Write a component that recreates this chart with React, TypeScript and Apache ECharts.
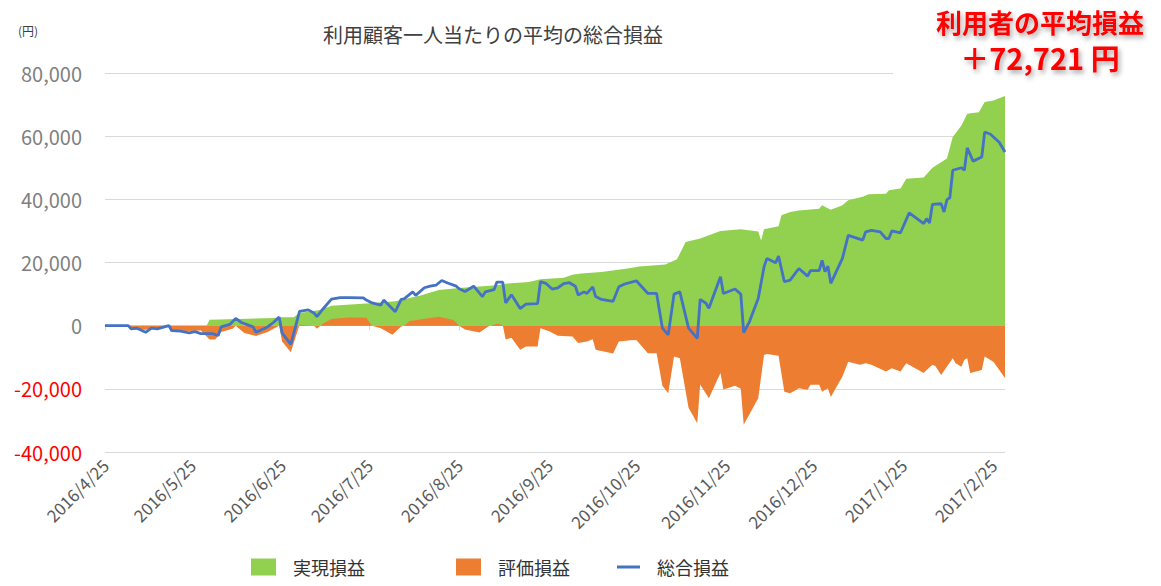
import React, { useEffect, useRef } from "react";
import * as echarts from "echarts";

// ---- data ----
const yTicks = { min: -40000, max: 80000, interval: 20000 };
const seriesNames = ["実現損益", "評価損益", "総合損益"];
const chartTitle = "利用顧客一人当たりの平均の総合損益";
const unitLabel = "(円)";
const noteLine1 = "利用者の平均損益";
const noteLine2 = "＋72,721 円";

const realized: [string, number][] = [
  ["2016/4/25", 0], ["2016/5/30", 0], ["2016/5/31", 1900], ["2016/6/22", 2400], ["2016/6/24", 2700],
  ["2016/6/29", 2700], ["2016/7/1", 4000], ["2016/7/8", 5000], ["2016/7/12", 6300], ["2016/7/24", 7000],
  ["2016/8/3", 7700], ["2016/8/12", 9600], ["2016/8/18", 11300], ["2016/8/26", 12000], ["2016/9/7", 12800],
  ["2016/9/10", 13300], ["2016/9/18", 13800], ["2016/9/22", 14700], ["2016/9/30", 15200], ["2016/10/3", 16100],
  ["2016/10/6", 16500], ["2016/10/13", 17000], ["2016/10/22", 18100], ["2016/10/26", 18700], ["2016/11/4", 19400],
  ["2016/11/8", 21000], ["2016/11/11", 26500], ["2016/11/16", 27600], ["2016/11/23", 30000], ["2016/11/30", 30500],
  ["2016/12/6", 29800], ["2016/12/7", 27000], ["2016/12/8", 30500], ["2016/12/13", 31500], ["2016/12/14", 35000],
  ["2016/12/17", 36000], ["2016/12/20", 36500], ["2016/12/27", 37000], ["2016/12/28", 38100], ["2016/12/31", 36700],
  ["2017/1/4", 38100], ["2017/1/6", 39700], ["2017/1/11", 40800], ["2017/1/13", 41600], ["2017/1/19", 41800],
  ["2017/1/20", 42900], ["2017/1/24", 43400], ["2017/1/26", 46500], ["2017/2/1", 46900], ["2017/2/4", 50000],
  ["2017/2/9", 52900], ["2017/2/11", 59700], ["2017/2/14", 63400], ["2017/2/16", 67100], ["2017/2/20", 67600],
  ["2017/2/22", 70800], ["2017/2/25", 71300], ["2017/3/1", 72700],
];

const valuation: [string, number][] = [
  ["2016/4/25", 0], ["2016/5/3", 0], ["2016/5/4", -1200], ["2016/5/9", -1300], ["2016/5/13", -800],
  ["2016/5/17", -300], ["2016/5/18", -1500], ["2016/5/24", -1700], ["2016/5/28", -1500], ["2016/5/31", -4400],
  ["2016/6/2", -4400], ["2016/6/4", -2000], ["2016/6/8", -1000], ["2016/6/9", 0], ["2016/6/12", -2300],
  ["2016/6/16", -3300], ["2016/6/20", -2000], ["2016/6/22", -1000], ["2016/6/24", 0], ["2016/6/25", -5000],
  ["2016/6/28", -8400], ["2016/7/1", 300], ["2016/7/6", 0], ["2016/7/7", -1000], ["2016/7/9", 600],
  ["2016/7/12", 2100], ["2016/7/18", 2600], ["2016/7/24", 2500], ["2016/7/26", 0], ["2016/7/29", -800],
  ["2016/8/2", -2900], ["2016/8/5", -300], ["2016/8/6", 0], ["2016/8/8", 1500], ["2016/8/18", 2800],
  ["2016/8/23", 1800], ["2016/8/25", 0], ["2016/8/27", -1200], ["2016/9/1", -2200], ["2016/9/4", -300],
  ["2016/9/7", 600], ["2016/9/9", 200], ["2016/9/10", -4400], ["2016/9/12", -3800], ["2016/9/15", -7600],
  ["2016/9/17", -6600], ["2016/9/21", -6600], ["2016/9/22", -800], ["2016/9/25", -1800], ["2016/9/28", -3200],
  ["2016/10/3", -3400], ["2016/10/5", -5500], ["2016/10/8", -5000], ["2016/10/10", -4300], ["2016/10/11", -7600],
  ["2016/10/17", -8800], ["2016/10/19", -5000], ["2016/10/23", -4600], ["2016/10/25", -4500], ["2016/10/29", -8700],
  ["2016/11/1", -8700], ["2016/11/3", -19000], ["2016/11/5", -21400], ["2016/11/7", -9800], ["2016/11/9", -10300],
  ["2016/11/12", -26000], ["2016/11/15", -30900], ["2016/11/16", -18600], ["2016/11/19", -23000], ["2016/11/23", -15000],
  ["2016/11/24", -20200], ["2016/11/28", -19000], ["2016/11/30", -20000], ["2016/12/1", -31400], ["2016/12/6", -23000],
  ["2016/12/8", -9300], ["2016/12/9", -9000], ["2016/12/13", -9500], ["2016/12/15", -20900], ["2016/12/17", -21400],
  ["2016/12/20", -19800], ["2016/12/23", -20300], ["2016/12/24", -18700], ["2016/12/27", -18700], ["2016/12/28", -20900],
  ["2016/12/30", -19800], ["2016/12/31", -22600], ["2017/1/4", -16100], ["2017/1/6", -11400], ["2017/1/10", -12400],
  ["2017/1/12", -11900], ["2017/1/14", -12400], ["2017/1/19", -14500], ["2017/1/21", -13500], ["2017/1/24", -14500],
  ["2017/1/26", -11900], ["2017/2/1", -15000], ["2017/2/2", -14000], ["2017/2/4", -12400], ["2017/2/5", -12800],
  ["2017/2/7", -15600], ["2017/2/11", -10300], ["2017/2/12", -11900], ["2017/2/14", -13000], ["2017/2/15", -10800],
  ["2017/2/16", -10300], ["2017/2/17", -15000], ["2017/2/21", -14000], ["2017/2/22", -9800], ["2017/2/25", -11400],
  ["2017/3/1", -16600],
];

const total: [string, number][] = [
  ["2016/4/25", 0], ["2016/5/3", 0], ["2016/5/4", -1000], ["2016/5/6", -800], ["2016/5/9", -2100],
  ["2016/5/11", -800], ["2016/5/13", -1000], ["2016/5/17", 0], ["2016/5/18", -1600], ["2016/5/21", -1700],
  ["2016/5/24", -2300], ["2016/5/26", -1900], ["2016/5/28", -2500], ["2016/6/1", -2500], ["2016/6/3", -3100],
  ["2016/6/4", -400], ["2016/6/7", 400], ["2016/6/9", 2300], ["2016/6/11", 1000], ["2016/6/15", -400],
  ["2016/6/16", -2100], ["2016/6/20", -400], ["2016/6/22", 1000], ["2016/6/24", 2700], ["2016/6/25", -2300],
  ["2016/6/28", -5900], ["2016/7/1", 4500], ["2016/7/4", 5000], ["2016/7/6", 4000], ["2016/7/7", 2900],
  ["2016/7/9", 5200], ["2016/7/12", 8400], ["2016/7/15", 8900], ["2016/7/18", 8900], ["2016/7/23", 8800],
  ["2016/7/24", 8100], ["2016/7/26", 7200], ["2016/7/29", 6500], ["2016/7/30", 8100], ["2016/8/3", 4400],
  ["2016/8/5", 8300], ["2016/8/6", 8500], ["2016/8/9", 10700], ["2016/8/10", 9600], ["2016/8/13", 12000],
  ["2016/8/15", 12500], ["2016/8/17", 12800], ["2016/8/19", 14300], ["2016/8/21", 13500], ["2016/8/24", 12500],
  ["2016/8/25", 11700], ["2016/8/27", 10800], ["2016/8/30", 12500], ["2016/9/2", 9200], ["2016/9/3", 10700],
  ["2016/9/6", 11400], ["2016/9/7", 13800], ["2016/9/9", 13800], ["2016/9/10", 7200], ["2016/9/12", 9800],
  ["2016/9/15", 5400], ["2016/9/17", 6800], ["2016/9/21", 7000], ["2016/9/22", 14000], ["2016/9/24", 13300],
  ["2016/9/26", 11600], ["2016/9/28", 12000], ["2016/9/30", 13300], ["2016/10/2", 13600], ["2016/10/4", 12500],
  ["2016/10/5", 9700], ["2016/10/7", 10700], ["2016/10/8", 10200], ["2016/10/10", 12300], ["2016/10/11", 9200],
  ["2016/10/13", 8300], ["2016/10/17", 7700], ["2016/10/19", 12300], ["2016/10/21", 13200], ["2016/10/25", 14200],
  ["2016/10/29", 10200], ["2016/11/1", 10200], ["2016/11/3", -800], ["2016/11/5", -2900], ["2016/11/7", 10000],
  ["2016/11/9", 10700], ["2016/11/12", -800], ["2016/11/15", -4000], ["2016/11/16", 8300], ["2016/11/18", 7100],
  ["2016/11/19", 5500], ["2016/11/23", 15500], ["2016/11/24", 10200], ["2016/11/28", 11600], ["2016/11/30", 10000],
  ["2016/12/1", -2200], ["2016/12/3", 1300], ["2016/12/6", 8600], ["2016/12/8", 18600], ["2016/12/9", 21300],
  ["2016/12/12", 19900], ["2016/12/13", 22000], ["2016/12/15", 13900], ["2016/12/17", 14400], ["2016/12/20", 18100],
  ["2016/12/23", 15700], ["2016/12/24", 17400], ["2016/12/27", 17400], ["2016/12/28", 20700], ["2016/12/29", 17100],
  ["2016/12/30", 18800], ["2016/12/31", 13400], ["2017/1/4", 21300], ["2017/1/6", 28600], ["2017/1/11", 27100],
  ["2017/1/12", 29700], ["2017/1/14", 30200], ["2017/1/17", 29700], ["2017/1/19", 27600], ["2017/1/20", 27600],
  ["2017/1/21", 30000], ["2017/1/24", 29400], ["2017/1/27", 35700], ["2017/2/1", 32300], ["2017/2/2", 33900],
  ["2017/2/3", 32500], ["2017/2/4", 38400], ["2017/2/7", 38600], ["2017/2/8", 36000], ["2017/2/9", 39900],
  ["2017/2/10", 40500], ["2017/2/11", 49200], ["2017/2/14", 50000], ["2017/2/15", 49200], ["2017/2/16", 56300],
  ["2017/2/18", 52100], ["2017/2/21", 53400], ["2017/2/22", 61300], ["2017/2/24", 60600], ["2017/2/27", 58100],
  ["2017/3/1", 55000],
];

// daily categories 2016/4/25 .. 2017/3/1
const categories: string[] = [];
for (let t = Date.UTC(2016, 3, 25); t <= Date.UTC(2017, 2, 1); t += 86400000) {
  const d = new Date(t);
  categories.push(`${d.getUTCFullYear()}/${d.getUTCMonth() + 1}/${d.getUTCDate()}`);
}
const catIndex: Record<string, number> = {};
categories.forEach((c, i) => (catIndex[c] = i));
const toPoints = (arr: [string, number][]) => arr.map(([d, v]) => [catIndex[d], v]);
const isMonthTick = (_i: number, v: string) => v.endsWith("/25");

const FONT = "'Noto Sans CJK JP', 'Noto Sans', sans-serif";
const GREEN = "#92D050";
const ORANGE = "#ED7D31";
const BLUE = "#4472C4";
const GRID = "#D9D9D9";

export default function App() {
  const ref = useRef<HTMLDivElement>(null);
  useEffect(() => {
    if (!ref.current) return;
    const chart = echarts.init(ref.current, null, { renderer: "svg" });
    const legendBase = {
      top: 556,
      padding: 0,
      itemWidth: 25,
      itemHeight: 17,
      icon: "rect",
      textStyle: { fontFamily: FONT, fontSize: 18, lineHeight: 22, color: "#333", padding: [0, 0, 0, 12] },
    };
    chart.setOption({
      animation: false,
      textStyle: { fontFamily: FONT },
      title: {
        text: chartTitle,
        left: 318,
        top: 19,
        textStyle: { fontFamily: FONT, fontSize: 20, fontWeight: "normal", color: "#404040" },
      },
      legend: [
        { ...legendBase, left: 251, data: [seriesNames[0]] },
        { ...legendBase, left: 456, data: [seriesNames[1]] },
        { ...legendBase, left: 617, itemWidth: 23, itemHeight: 3, data: [seriesNames[2]] },
      ],
      grid: { left: 105, right: 156, top: 73, bottom: 134 },
      xAxis: [
        {
          type: "category",
          data: categories,
          boundaryGap: false,
          axisLine: { onZero: true, lineStyle: { color: GRID, width: 1 } },
          axisTick: { show: true, interval: isMonthTick, length: 5, lineStyle: { color: GRID } },
          axisLabel: { show: false },
          splitLine: { show: false },
        },
        {
          type: "category",
          data: categories,
          boundaryGap: false,
          position: "bottom",
          axisLine: { show: false, onZero: false },
          axisTick: { show: false },
          axisLabel: {
            interval: isMonthTick,
            rotate: 45,
            margin: 10,
            fontFamily: FONT,
            fontSize: 17,
            color: "#595959",
          },
          splitLine: { show: false },
        },
      ],
      yAxis: {
        type: "value",
        min: yTicks.min,
        max: yTicks.max,
        interval: yTicks.interval,
        axisLine: { show: false },
        axisTick: { show: false },
        splitLine: { lineStyle: { color: GRID, width: 1 } },
        axisLabel: {
          margin: 23,
          fontFamily: FONT,
          fontSize: 20,
          color: (v: any) => (Number(v) < 0 ? "#FF0000" : "#7F7F7F"),
          formatter: (v: number) => v.toLocaleString("en-US"),
        },
      },
      series: [
        {
          name: seriesNames[0],
          type: "line",
          xAxisIndex: 0,
          data: toPoints(realized),
          symbol: "none",
          lineStyle: { width: 0 },
          itemStyle: { color: GREEN },
          areaStyle: { color: GREEN, opacity: 1 },
          z: 1,
        },
        {
          name: seriesNames[1],
          type: "line",
          xAxisIndex: 0,
          data: toPoints(valuation),
          symbol: "none",
          lineStyle: { width: 0 },
          itemStyle: { color: ORANGE },
          areaStyle: { color: ORANGE, opacity: 1 },
          z: 2,
        },
        {
          name: seriesNames[2],
          type: "line",
          xAxisIndex: 0,
          data: toPoints(total),
          symbol: "none",
          lineStyle: { width: 2.8, color: BLUE },
          itemStyle: { color: BLUE },
          z: 3,
        },
      ],
      graphic: [
        {
          type: "text",
          left: 18,
          top: 24,
          style: { text: unitLabel, font: `12px ${FONT}`, fill: "#404040" },
        },
        {
          type: "rect",
          shape: { x: 893, y: 0, width: 268, height: 84 },
          style: { fill: "#FFFFFF" },
          z: 100,
        },
        {
          type: "text",
          x: 1040,
          y: 8,
          z: 101,
          style: {
            text: noteLine1,
            font: `bold 26px ${FONT}`,
            fill: "#FF0000",
            align: "center",
            textShadowColor: "rgba(0,0,0,0.35)",
            textShadowBlur: 5,
            textShadowOffsetX: 2,
            textShadowOffsetY: 3,
          },
        },
        {
          type: "text",
          x: 1040,
          y: 42,
          z: 101,
          style: {
            text: noteLine2,
            font: `bold 29px ${FONT}`,
            fill: "#FF0000",
            align: "center",
            textShadowColor: "rgba(0,0,0,0.35)",
            textShadowBlur: 5,
            textShadowOffsetX: 2,
            textShadowOffsetY: 3,
          },
        },
      ],
    });
    return () => chart.dispose();
  }, []);
  return (
    <div
      ref={ref}
      style={{ position: "fixed", left: 0, top: 0, width: 1161, height: 586, background: "#fff" }}
    />
  );
}
